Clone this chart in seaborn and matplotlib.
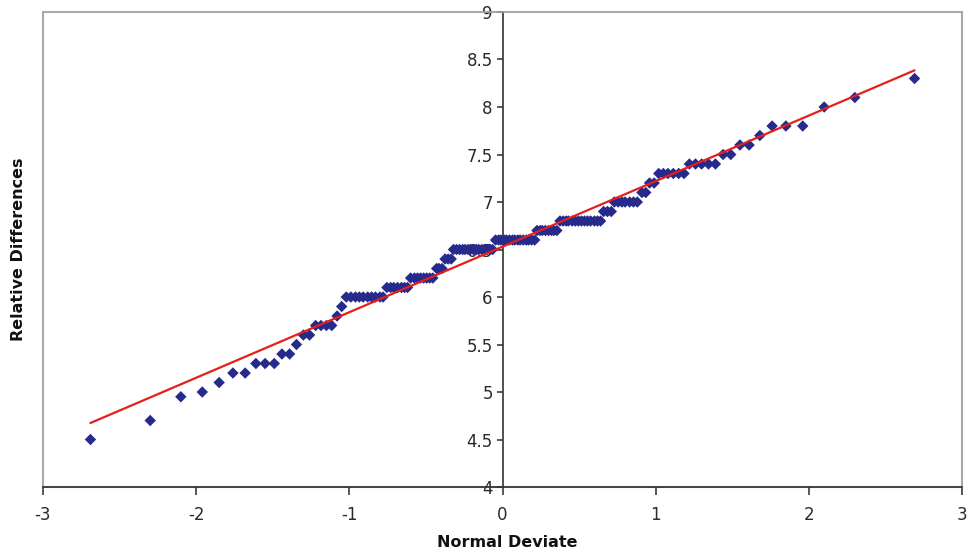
import numpy as np
import pandas as pd
import matplotlib
matplotlib.use("Agg")
import matplotlib.pyplot as plt
import seaborn as sns
from matplotlib.patches import Rectangle

# --- valores (normal probability plot, 140 pontos) ---

normal_deviate = [
    -2.69, -2.30, -2.10, -1.96, -1.85, -1.76, -1.68, -1.61, -1.55, -1.49,
    -1.44, -1.39, -1.345, -1.30, -1.26, -1.22, -1.185, -1.15, -1.115, -1.08,
    -1.05, -1.02, -0.99, -0.96, -0.935, -0.91, -0.88, -0.855, -0.83, -0.80,
    -0.78, -0.755, -0.73, -0.71, -0.685, -0.66, -0.64, -0.62, -0.60, -0.575,
    -0.555, -0.535, -0.515, -0.495, -0.475, -0.455, -0.43, -0.415, -0.395, -0.375,
    -0.355, -0.335, -0.32, -0.30, -0.28, -0.26, -0.245, -0.225, -0.21, -0.19,
    -0.17, -0.155, -0.135, -0.115, -0.10, -0.08, -0.065, -0.045, -0.025, -0.01,
    0.01, 0.025, 0.045, 0.065, 0.08, 0.10, 0.115, 0.135, 0.155, 0.17,
    0.19, 0.21, 0.225, 0.245, 0.26, 0.28, 0.30, 0.32, 0.335, 0.355,
    0.375, 0.395, 0.415, 0.43, 0.455, 0.475, 0.495, 0.515, 0.535, 0.555,
    0.575, 0.60, 0.62, 0.64, 0.66, 0.685, 0.71, 0.73, 0.755, 0.78,
    0.80, 0.83, 0.855, 0.88, 0.91, 0.935, 0.96, 0.99, 1.02, 1.05,
    1.08, 1.115, 1.15, 1.185, 1.22, 1.26, 1.30, 1.345, 1.39, 1.44,
    1.49, 1.55, 1.61, 1.68, 1.76, 1.85, 1.96, 2.10, 2.30, 2.69,
]

relative_diff = [
    4.5, 4.7, 4.95, 5.0, 5.1, 5.2, 5.2, 5.3, 5.3, 5.3,
    5.4, 5.4, 5.5, 5.6, 5.6, 5.7, 5.7, 5.7, 5.7, 5.8,
    5.9, 6.0, 6.0, 6.0, 6.0, 6.0, 6.0, 6.0, 6.0, 6.0,
    6.0, 6.1, 6.1, 6.1, 6.1, 6.1, 6.1, 6.1, 6.2, 6.2,
    6.2, 6.2, 6.2, 6.2, 6.2, 6.2, 6.3, 6.3, 6.3, 6.4,
    6.4, 6.4, 6.5, 6.5, 6.5, 6.5, 6.5, 6.5, 6.5, 6.5,
    6.5, 6.5, 6.5, 6.5, 6.5, 6.5, 6.5, 6.6, 6.6, 6.6,
    6.6, 6.6, 6.6, 6.6, 6.6, 6.6, 6.6, 6.6, 6.6, 6.6,
    6.6, 6.6, 6.7, 6.7, 6.7, 6.7, 6.7, 6.7, 6.7, 6.7,
    6.8, 6.8, 6.8, 6.8, 6.8, 6.8, 6.8, 6.8, 6.8, 6.8,
    6.8, 6.8, 6.8, 6.8, 6.9, 6.9, 6.9, 7.0, 7.0, 7.0,
    7.0, 7.0, 7.0, 7.0, 7.1, 7.1, 7.2, 7.2, 7.3, 7.3,
    7.3, 7.3, 7.3, 7.3, 7.4, 7.4, 7.4, 7.4, 7.4, 7.5,
    7.5, 7.6, 7.6, 7.7, 7.8, 7.8, 7.8, 8.0, 8.1, 8.3,
]

# reta de referência (média + desvio * z)
fit_intercept = 6.53
fit_slope = 0.69
line_x = [-2.69, 2.69]

x_ticks = [-3, -2, -1, 0, 1, 2, 3]
y_ticks = [4, 4.5, 5, 5.5, 6, 6.5, 7, 7.5, 8, 8.5, 9]
y_tick_labels = ['4', '4.5', '5', '5.5', '6', '6.5', '7', '7.5', '8', '8.5', '9']

df = pd.DataFrame({'Normal Deviate': normal_deviate,
                   'Relative Differences': relative_diff})
df_line = pd.DataFrame({'x': line_x,
                        'y': [fit_intercept + fit_slope * v for v in line_x]})

sns.set_theme(style='white')
plt.rcParams['font.family'] = ['DejaVu Sans']
plt.rcParams['axes.unicode_minus'] = False

fig = plt.figure(figsize=(9.7, 5.58), dpi=100)
ax = fig.add_axes([0.0443, 0.1272, 0.9475, 0.8513])

sns.scatterplot(data=df, x='Normal Deviate', y='Relative Differences',
                marker='D', s=34, color='#262a8c', edgecolor='none',
                linewidth=0, ax=ax, zorder=3)
sns.lineplot(data=df_line, x='x', y='y', color='#e3201b', linewidth=1.6,
             ax=ax, zorder=4)

ax.set_xlim(-3, 3)
ax.set_ylim(4, 9)
ax.set_xticks(x_ticks)
ax.set_xticklabels([str(t) for t in x_ticks])
ax.set_yticks(y_ticks)
ax.set_yticklabels(y_tick_labels)

# eixo Y no zero, moldura cinza ao redor da área do gráfico
ax.spines['left'].set_position(('data', 0))
ax.spines['left'].set_color('#333333')
ax.spines['left'].set_linewidth(1.2)
ax.spines['bottom'].set_color('#333333')
ax.spines['bottom'].set_linewidth(1.2)
for lado in ['top', 'right']:
    ax.spines[lado].set_color('#a8a8a8')
    ax.spines[lado].set_linewidth(1.2)
ax.add_patch(Rectangle((0, 0), 1, 1, transform=ax.transAxes, fill=False,
                       edgecolor='#a8a8a8', linewidth=1.5, zorder=0,
                       clip_on=False))

ax.tick_params(axis='x', direction='out', length=6, width=1.1, pad=8,
               labelsize=12, colors='#2a2a2a', bottom=True)
ax.tick_params(axis='y', direction='out', length=4, width=1.1, pad=3,
               labelsize=12, colors='#2a2a2a', left=True)

ax.set_xlabel('Normal Deviate', fontsize=11.5, fontweight='bold', color='#111111')
ax.set_ylabel('Relative Differences', fontsize=11.5, fontweight='bold', color='#111111')
ax.xaxis.set_label_coords(0.505, -0.10)
ax.yaxis.set_label_coords(-0.018, 0.5)
ax.grid(False)

fig.savefig('out.png', dpi=100)
